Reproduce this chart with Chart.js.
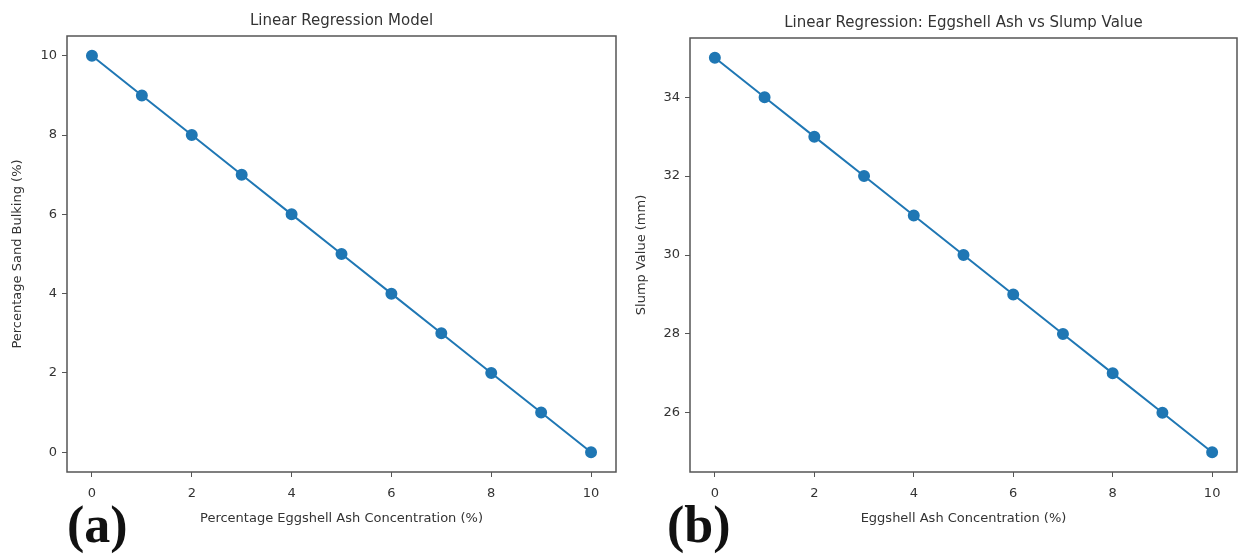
<!DOCTYPE html>
<html>
<head>
<meta charset="utf-8">
<script src="https://cdn.jsdelivr.net/npm/chart.js@4.4.1/dist/chart.umd.min.js"></script>
<style>
  html, body { margin: 0; padding: 0; background: #fff; }
  #wrap { position: relative; width: 1239px; height: 556px; overflow: hidden; }
  .box { position: absolute; top: 0; height: 556px; }
  .tag { position: absolute; top: 497px; font-family: "Liberation Serif", serif; font-weight: bold; font-size: 52px; line-height: 56px; color: #111; }
</style>
</head>
<body>
<div id="wrap">
  <div class="box" style="left:0; width:626px;"><canvas id="chart-a"></canvas></div>
  <div class="box" style="left:620px; width:627px;"><canvas id="chart-b"></canvas></div>
  <div class="tag" style="left:67px;">(a)</div>
  <div class="tag" style="left:667px;">(b)</div>
</div>
<script>
let ASH_CONC = [0, 1, 2, 3, 4, 5, 6, 7, 8, 9, 10];
let SAND_BULKING = [10, 9, 8, 7, 6, 5, 4, 3, 2, 1, 0];
let SLUMP_VALUE = [35, 34, 33, 32, 31, 30, 29, 28, 27, 26, 25];

let X_TICKS = [0, 2, 4, 6, 8, 10];
let Y_TICKS_A = [0, 2, 4, 6, 8, 10];
let Y_TICKS_B = [26, 28, 30, 32, 34];

const LINE_COLOR = '#1f77b4';
const TEXT_COLOR = '#333';
const FONT = 'DejaVu Sans';

// matplotlib-style frame + title centered over the plot area
const frameTitlePlugin = {
    id: 'frameTitle',
    afterDraw(chart, args, opts) {
        const { ctx, chartArea } = chart;
        ctx.save();
        ctx.strokeStyle = '#555';
        ctx.lineWidth = 1.5;
        ctx.strokeRect(chartArea.left, chartArea.top,
            chartArea.right - chartArea.left, chartArea.bottom - chartArea.top);
        ctx.fillStyle = TEXT_COLOR;
        ctx.font = '15px ' + FONT;
        ctx.textAlign = 'center';
        ctx.textBaseline = 'alphabetic';
        ctx.fillText(opts.text, (chartArea.left + chartArea.right) / 2, chartArea.top - 11);
        ctx.restore();
    }
};

function makeChart(id, yData, yTicks, yMin, yMax, xTitle, yTitle, title, pad) {
    const points = ASH_CONC.map((x, i) => ({ x: x, y: yData[i] }));
    return new Chart(document.getElementById(id), {
        type: 'line',
        data: {
            datasets: [{
                data: points,
                borderColor: LINE_COLOR,
                backgroundColor: LINE_COLOR,
                borderWidth: 2,
                pointRadius: 5,
                pointHoverRadius: 5,
                fill: false,
                tension: 0
            }]
        },
        options: {
            responsive: true,
            maintainAspectRatio: false,
            animation: false,
            layout: { padding: { top: pad.top, right: 10, left: pad.left, bottom: 30 } },
            plugins: {
                legend: { display: false },
                tooltip: { enabled: false },
                frameTitle: { text: title }
            },
            scales: {
                x: {
                    type: 'linear',
                    min: -0.5,
                    max: 10.5,
                    afterBuildTicks: (s) => { s.ticks = X_TICKS.map(v => ({ value: v })); },
                    afterFit: (s) => { s.height = 54; },
                    grid: { display: true, drawOnChartArea: false, drawTicks: true, tickLength: 5, color: '#555' },
                    border: { display: false },
                    ticks: { color: TEXT_COLOR, font: { family: FONT, size: 13 }, padding: 9, maxRotation: 0 },
                    title: { display: true, text: xTitle, color: TEXT_COLOR, font: { family: FONT, size: 13 }, padding: { top: 2, bottom: 0 } }
                },
                y: {
                    type: 'linear',
                    min: yMin,
                    max: yMax,
                    afterBuildTicks: (s) => { s.ticks = yTicks.map(v => ({ value: v })); },
                    afterFit: (s) => { s.width = pad.yWidth; },
                    grid: { display: true, drawOnChartArea: false, drawTicks: true, tickLength: 5, color: '#555' },
                    border: { display: false },
                    ticks: { color: TEXT_COLOR, font: { family: FONT, size: 13 }, padding: 5 },
                    title: { display: true, text: yTitle, color: TEXT_COLOR, font: { family: FONT, size: 13 }, padding: { top: 0, bottom: 4 } }
                }
            }
        },
        plugins: [frameTitlePlugin]
    });
}

makeChart('chart-a', SAND_BULKING, Y_TICKS_A, -0.5, 10.5,
    'Percentage Eggshell Ash Concentration (%)', 'Percentage Sand Bulking (%)',
    'Linear Regression Model', { top: 36, left: 10, yWidth: 57 });
makeChart('chart-b', SLUMP_VALUE, Y_TICKS_B, 24.5, 35.5,
    'Eggshell Ash Concentration (%)', 'Slump Value (mm)',
    'Linear Regression: Eggshell Ash vs Slump Value', { top: 38, left: 14, yWidth: 56 });
</script>
</body>
</html>
